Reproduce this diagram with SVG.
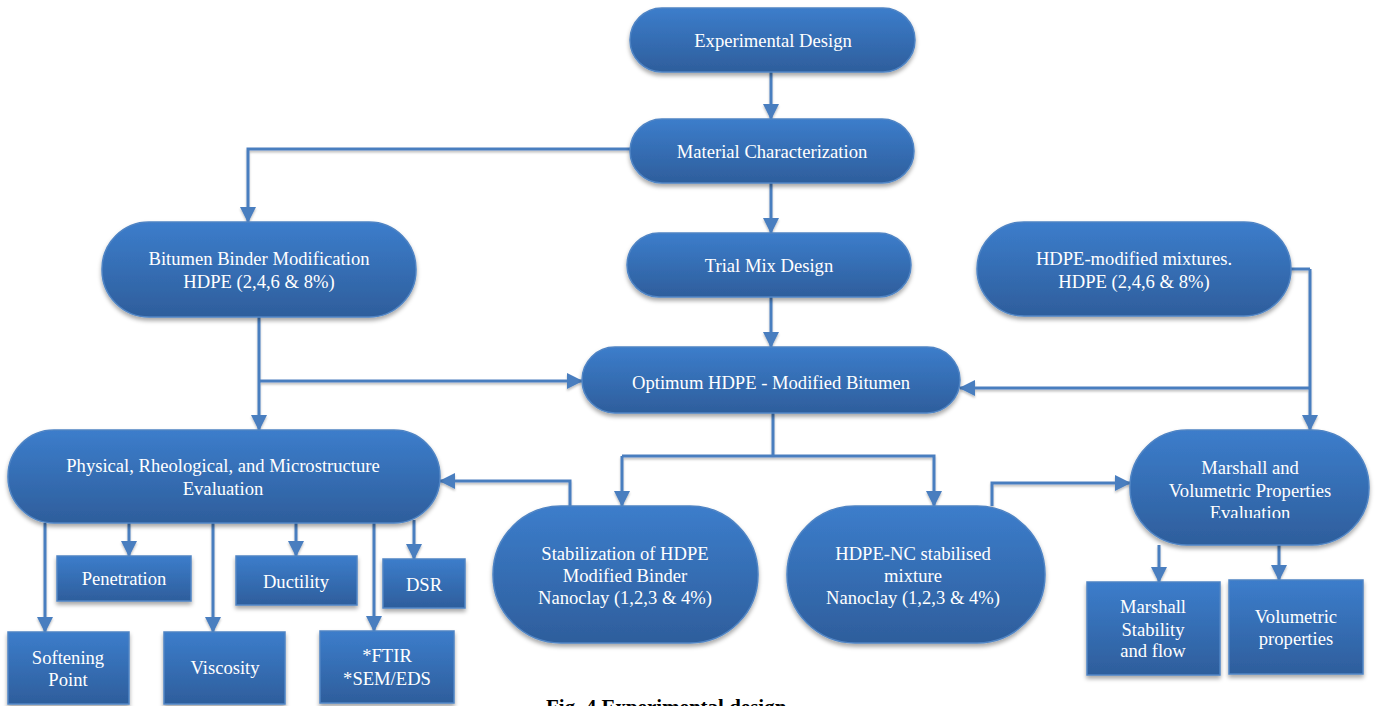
<svg xmlns="http://www.w3.org/2000/svg" width="1375" height="706" viewBox="0 0 1375 706">
<defs>
<linearGradient id="g" x1="0" y1="0" x2="0" y2="1">
<stop offset="0" stop-color="#3c7dcb"/>
<stop offset="1" stop-color="#2e5e9c"/>
</linearGradient>
<filter id="sh" x="-10%" y="-10%" width="120%" height="130%">
<feDropShadow dx="0" dy="3" stdDeviation="2" flood-color="#000" flood-opacity="0.35"/>
</filter>
<filter id="lsh" x="-5%" y="-5%" width="110%" height="110%">
<feDropShadow dx="0" dy="2" stdDeviation="1.2" flood-color="#000" flood-opacity="0.25"/>
</filter>
<marker id="ah" markerUnits="userSpaceOnUse" markerWidth="16" markerHeight="16" viewBox="0 0 16 16" refX="15" refY="8" orient="auto">
<path d="M0,0 L16,8 L0,16 Z" fill="#4a7ebf"/>
</marker>
<clipPath id="clipM"><rect x="1130" y="430" width="240" height="88"/></clipPath>
<style>
.n{fill:url(#g);stroke:#4f84c4;stroke-width:1.5;filter:url(#sh)}
.t{font-family:'Liberation Serif','DejaVu Serif',serif;font-size:18.6px;fill:#fff;text-anchor:middle}
.c{fill:none;stroke:#4a7ebf;stroke-width:3}
.a{marker-end:url(#ah)}
.cap{font-family:'Liberation Serif','DejaVu Serif',serif;font-size:21px;font-weight:bold;fill:#000}
</style>
</defs>

<g id="connectors" filter="url(#lsh)">
<path class="c a" d="M771,72 V119"/>
<path class="c a" d="M630,149 H248 V222"/>
<path class="c a" d="M771,183 V233"/>
<path class="c a" d="M771,297 V347"/>
<path class="c a" d="M259,317 V430"/>
<path class="c a" d="M259,381 H582"/>
<path class="c" d="M1291,269 H1310"/>
<path class="c a" d="M1310,269 V430"/>
<path class="c a" d="M1310,388 H960"/>
<path class="c" d="M773,413 V456"/>
<path class="c a" d="M622,456 H934 V506"/>
<path class="c a" d="M622,456 V506"/>
<path class="c a" d="M570,506 V481 H440"/>
<path class="c a" d="M992,506 V483 H1130"/>
<path class="c a" d="M1159,545 V582"/>
<path class="c a" d="M1279,537 V580"/>
<path class="c a" d="M45,523 V632"/>
<path class="c a" d="M129,523 V556"/>
<path class="c a" d="M213,523 V632"/>
<path class="c a" d="M296,523 V556"/>
<path class="c a" d="M374,523 V631"/>
<path class="c a" d="M414,520 V559"/>
</g>

<g id="n-experimental-design">
<rect class="n" x="630" y="8" width="285" height="64" rx="32"/>
<text class="t" x="773" y="47">Experimental Design</text>
</g>
<g id="n-material-characterization">
<rect class="n" x="630" y="119" width="284" height="64" rx="32"/>
<text class="t" x="772" y="158">Material Characterization</text>
</g>
<g id="n-trial-mix">
<rect class="n" x="627" y="233" width="284" height="64" rx="32"/>
<text class="t" x="769" y="272">Trial Mix Design</text>
</g>
<g id="n-optimum">
<rect class="n" x="582" y="347" width="378" height="66" rx="33"/>
<text class="t" x="771" y="389">Optimum HDPE - Modified Bitumen</text>
</g>
<g id="n-bitumen">
<rect class="n" x="102" y="222" width="314" height="95" rx="47"/>
<text class="t" x="259" y="265">Bitumen Binder Modification</text>
<text class="t" x="259" y="288">HDPE (2,4,6 &amp; 8%)</text>
</g>
<g id="n-hdpe-mixtures">
<rect class="n" x="977" y="222" width="314" height="94" rx="47"/>
<text class="t" x="1134" y="265">HDPE-modified mixtures.</text>
<text class="t" x="1134" y="288">HDPE (2,4,6 &amp; 8%)</text>
</g>
<g id="n-physical">
<rect class="n" x="8" y="430" width="432" height="93" rx="46"/>
<text class="t" x="223" y="472">Physical, Rheological, and Microstructure</text>
<text class="t" x="223" y="495">Evaluation</text>
</g>
<g id="n-stabilization">
<rect class="n" x="493" y="506" width="265" height="137" rx="68"/>
<text class="t" x="625" y="560">Stabilization of HDPE</text>
<text class="t" x="625" y="582">Modified Binder</text>
<text class="t" x="625" y="604">Nanoclay (1,2,3 &amp; 4%)</text>
</g>
<g id="n-hdpe-nc">
<rect class="n" x="787" y="506" width="258" height="137" rx="68"/>
<text class="t" x="913" y="560">HDPE-NC stabilised</text>
<text class="t" x="913" y="582">mixture</text>
<text class="t" x="913" y="604">Nanoclay (1,2,3 &amp; 4%)</text>
</g>
<g id="n-marshall-eval">
<rect class="n" x="1130" y="430" width="239" height="115" rx="57"/>
<g clip-path="url(#clipM)">
<text class="t" x="1250" y="474">Marshall and</text>
<text class="t" x="1250" y="497">Volumetric Properties</text>
<text class="t" x="1250" y="519">Evaluation</text>
</g>
</g>
<g id="n-marshall-stability">
<rect class="n" x="1087" y="582" width="133" height="93"/>
<text class="t" x="1153" y="613">Marshall</text>
<text class="t" x="1153" y="636">Stability</text>
<text class="t" x="1153" y="657">and flow</text>
</g>
<g id="n-volumetric">
<rect class="n" x="1229" y="580" width="134" height="94"/>
<text class="t" x="1296" y="623">Volumetric</text>
<text class="t" x="1296" y="645">properties</text>
</g>
<g id="n-penetration">
<rect class="n" x="57" y="556" width="134" height="45"/>
<text class="t" x="124" y="585">Penetration</text>
</g>
<g id="n-ductility">
<rect class="n" x="236" y="556" width="121" height="49"/>
<text class="t" x="296" y="588">Ductility</text>
</g>
<g id="n-dsr">
<rect class="n" x="383" y="559" width="82" height="49"/>
<text class="t" x="424" y="591">DSR</text>
</g>
<g id="n-softening">
<rect class="n" x="8" y="632" width="121" height="72"/>
<text class="t" x="68" y="664">Softening</text>
<text class="t" x="68" y="686">Point</text>
</g>
<g id="n-viscosity">
<rect class="n" x="164" y="632" width="121" height="72"/>
<text class="t" x="225" y="674">Viscosity</text>
</g>
<g id="n-ftir">
<rect class="n" x="320" y="631" width="134" height="72"/>
<text class="t" x="387" y="662">*FTIR</text>
<text class="t" x="387" y="685">*SEM/EDS</text>
</g>

<text class="cap" x="546" y="714">Fig. 4 Experimental design</text>
</svg>
